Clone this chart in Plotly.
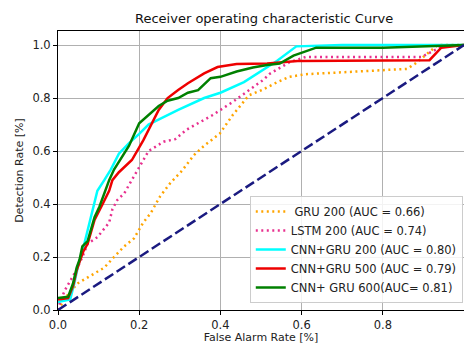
import plotly.graph_objects as go

# ---- data ----
gru200_x = [0, 0.02, 0.048, 0.082, 0.114, 0.138, 0.163, 0.187, 0.21, 0.228, 0.252, 0.277, 0.305, 0.335, 0.36, 0.398, 0.43, 0.47, 0.502, 0.54, 0.57, 0.61, 0.86, 0.88, 0.935, 1.0]
gru200_y = [0.0, 0.05, 0.10, 0.13, 0.16, 0.20, 0.24, 0.27, 0.33, 0.365, 0.43, 0.48, 0.525, 0.585, 0.62, 0.665, 0.735, 0.81, 0.83, 0.86, 0.88, 0.89, 0.91, 0.93, 1.0, 1.0]

lstm200_x = [0, 0.005, 0.017, 0.03, 0.045, 0.06, 0.073, 0.097, 0.11, 0.126, 0.134, 0.146, 0.163, 0.182, 0.207, 0.223, 0.26, 0.289, 0.316, 0.345, 0.38, 0.43, 0.478, 0.507, 0.52, 0.57, 0.61, 0.895, 0.927, 0.95, 1.0]
lstm200_y = [0.0, 0.03, 0.075, 0.11, 0.15, 0.20, 0.25, 0.275, 0.30, 0.33, 0.38, 0.415, 0.44, 0.49, 0.56, 0.60, 0.635, 0.645, 0.68, 0.705, 0.735, 0.785, 0.84, 0.87, 0.89, 0.935, 0.955, 0.955, 0.98, 0.996, 1.0]

cnngru200_x = [0, 0.03, 0.04, 0.05, 0.06, 0.073, 0.085, 0.097, 0.114, 0.13, 0.15, 0.175, 0.2, 0.223, 0.25, 0.296, 0.36, 0.40, 0.458, 0.507, 0.539, 0.587, 0.7, 1.0]
cnngru200_y = [0.03, 0.04, 0.10, 0.17, 0.22, 0.30, 0.38, 0.45, 0.49, 0.53, 0.59, 0.63, 0.665, 0.70, 0.72, 0.755, 0.80, 0.82, 0.86, 0.91, 0.94, 0.995, 1.0, 1.0]

cnngru500_x = [0, 0.025, 0.037, 0.046, 0.055, 0.062, 0.073, 0.09, 0.11, 0.126, 0.134, 0.15, 0.182, 0.21, 0.248, 0.27, 0.296, 0.32, 0.36, 0.393, 0.44, 0.515, 0.59, 0.915, 0.944, 1.0]
cnngru500_y = [0.04, 0.045, 0.09, 0.15, 0.19, 0.22, 0.25, 0.34, 0.40, 0.45, 0.49, 0.52, 0.566, 0.64, 0.755, 0.80, 0.83, 0.856, 0.893, 0.917, 0.928, 0.93, 0.94, 0.943, 0.99, 1.0]

cnngru600_x = [0, 0.025, 0.037, 0.046, 0.053, 0.06, 0.073, 0.082, 0.09, 0.102, 0.114, 0.126, 0.138, 0.155, 0.175, 0.2, 0.225, 0.248, 0.27, 0.296, 0.32, 0.345, 0.376, 0.40, 0.44, 0.48, 0.515, 0.546, 0.58, 0.636, 0.8, 1.0]
cnngru600_y = [0.045, 0.05, 0.10, 0.16, 0.19, 0.24, 0.26, 0.31, 0.35, 0.39, 0.44, 0.49, 0.53, 0.57, 0.62, 0.705, 0.74, 0.77, 0.79, 0.80, 0.82, 0.83, 0.875, 0.88, 0.90, 0.915, 0.925, 0.93, 0.96, 0.99, 0.99, 1.0]

chance_x = [0, 1]
chance_y = [0, 1]

labels = [" GRU 200 (AUC = 0.66)", "LSTM 200 (AUC = 0.74)", "CNN+GRU 200 (AUC = 0.80)",
          "CNN+GRU 500 (AUC = 0.79)", "CNN+ GRU 600(AUC= 0.81)"]
ticks = [0, 0.2, 0.4, 0.6, 0.8, 1.0]
tick_text = ["0.0", "0.2", "0.4", "0.6", "0.8", "1.0"]

FONT = "DejaVu Sans"
fig = go.Figure()

fig.add_trace(go.Scatter(x=gru200_x, y=gru200_y, mode="lines", name=labels[0],
                         line=dict(color="#FFA500", width=2.5, dash="2px,3.5px")))
fig.add_trace(go.Scatter(x=lstm200_x, y=lstm200_y, mode="lines", name=labels[1],
                         line=dict(color="#E8308F", width=2.5, dash="2px,3.5px")))
fig.add_trace(go.Scatter(x=cnngru200_x, y=cnngru200_y, mode="lines", name=labels[2],
                         line=dict(color="#00FFFF", width=2.5)))
fig.add_trace(go.Scatter(x=cnngru500_x, y=cnngru500_y, mode="lines", name=labels[3],
                         line=dict(color="#EE0000", width=2.5)))
fig.add_trace(go.Scatter(x=cnngru600_x, y=cnngru600_y, mode="lines", name=labels[4],
                         line=dict(color="#008000", width=2.5)))
fig.add_trace(go.Scatter(x=chance_x, y=chance_y, mode="lines", showlegend=False,
                         line=dict(color="#1a1a80", width=2.5, dash="10px,4px")))

axis_common = dict(showline=True, mirror=True, linecolor="black", linewidth=1,
                   showgrid=True, gridcolor="#b0b0b0", gridwidth=1, zeroline=False,
                   ticks="outside", ticklen=4, tickcolor="black", automargin=False,
                   tickvals=ticks, ticktext=tick_text,
                   tickfont=dict(family=FONT, size=11.5, color="#222"))

# page body has an 8px margin: the figure is sized so the page does not overflow
fig.update_layout(
    width=464, height=336,
    margin=dict(l=50, r=8, t=23, b=34),
    paper_bgcolor="white", plot_bgcolor="white",
    title=dict(text="Receiver operating characteristic Curve", x=0.552, xanchor="center",
               y=0.970, yanchor="middle", font=dict(family=FONT, size=13, color="#111")),
    xaxis=dict(range=[0, 1.0], title=dict(text="False Alarm Rate [%]", standoff=4,
               font=dict(family=FONT, size=11, color="#222")), **axis_common),
    yaxis=dict(range=[0, 1.053], title=dict(text="Detection Rate [%]", standoff=6,
               font=dict(family=FONT, size=11, color="#222")), **axis_common),
    legend=dict(x=0.997, xanchor="right", y=0.025, yanchor="bottom",
                bgcolor="rgba(255,255,255,0.85)", bordercolor="#cccccc", borderwidth=1,
                font=dict(family=FONT, size=11.5, color="#222"), tracegroupgap=0),
)

fig.write_html("out.html")
